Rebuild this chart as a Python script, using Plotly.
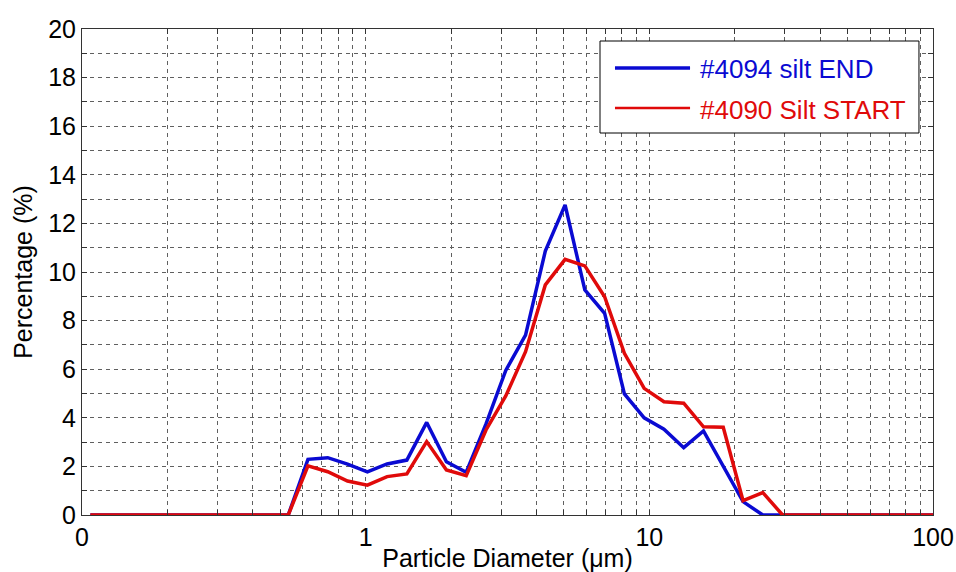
import plotly.graph_objects as go

# Particle diameter bins (µm)
diameter = [0.107, 0.5335, 0.626, 0.735, 0.863, 1.014, 1.190, 1.397, 1.641, 1.926,
            2.262, 2.656, 3.118, 3.661, 4.298, 5.047, 5.925, 6.957, 8.168, 9.590,
            11.26, 13.22, 15.52, 18.22, 21.40, 25.12, 29.50, 100.0]

silt_end = [0, 0, 2.29, 2.36, 2.09, 1.77, 2.10, 2.26, 3.81, 2.19,
            1.76, 3.75, 5.95, 7.40, 10.86, 12.76, 9.26, 8.30, 4.98, 4.00,
            3.53, 2.77, 3.46, 2.02, 0.55, 0, 0, 0]

silt_start = [0, 0, 2.02, 1.78, 1.40, 1.23, 1.58, 1.69, 3.02, 1.85,
              1.62, 3.50, 4.90, 6.72, 9.47, 10.52, 10.25, 8.98, 6.65, 5.21,
              4.66, 4.60, 3.63, 3.61, 0.59, 0.92, 0, 0]

x_tickvals = [0.1, 1, 10, 100]
x_ticktext = ["0", "1", "10", "100"]

BLUE = "#0a0ad2"
RED = "#e00a0a"
FONT = "Arial, Liberation Sans, sans-serif"
GRID = "#606060"
AX = "#333333"
DASH = "4px,4px"

fig = go.Figure()
fig.add_trace(go.Scatter(x=diameter, y=silt_end, mode="lines", name="#4094 silt END",
                         line=dict(color=BLUE, width=3.5), showlegend=False))
fig.add_trace(go.Scatter(x=diameter, y=silt_start, mode="lines", name="#4090 Silt START",
                         line=dict(color=RED, width=3.5), showlegend=False))

minor_x = [m * 10 ** e for e in (-1, 0, 1) for m in range(2, 10)]

fig.update_xaxes(type="log", range=[-1, 2], tickmode="array", tickvals=x_tickvals,
                 ticktext=x_ticktext, showline=True, mirror="allticks", linecolor=AX, linewidth=1,
                 ticks="inside", ticklen=5, tickcolor=AX, automargin=False,
                 showgrid=True, gridcolor=GRID, griddash=DASH, gridwidth=1,
                 minor=dict(tickmode="array", tickvals=minor_x, ticks="inside", ticklen=5,
                            tickcolor=AX, showgrid=True, gridcolor=GRID, griddash=DASH,
                            gridwidth=1),
                 zeroline=False,
                 tickfont=dict(family=FONT, size=25, color="black"),
                 title=dict(text="Particle Diameter (μm)", standoff=2,
                            font=dict(family=FONT, size=25, color="black")))
fig.update_yaxes(range=[0, 20], dtick=2, showline=True, mirror="allticks", linecolor=AX,
                 linewidth=1, ticks="inside", ticklen=5, tickcolor=AX, automargin=False,
                 showgrid=True, gridcolor=GRID, griddash=DASH, gridwidth=1,
                 minor=dict(dtick=1, ticks="inside", ticklen=5, tickcolor=AX, showgrid=True,
                            gridcolor=GRID, griddash=DASH, gridwidth=1),
                 zeroline=False,
                 tickfont=dict(family=FONT, size=25, color="black"),
                 title=dict(text="Percentage (%)", standoff=8,
                            font=dict(family=FONT, size=25, color="black")))

# Legend box (drawn manually)
fig.add_shape(type="rect", xref="paper", yref="paper", x0=0.6087, x1=0.9835, y0=0.786, y1=0.9753,
              line=dict(color="black", width=1), fillcolor="white", layer="above")
fig.add_shape(type="line", xref="paper", yref="paper", x0=0.6263, x1=0.7145, y0=0.9198, y1=0.9198,
              line=dict(color=BLUE, width=3.5), layer="above")
fig.add_shape(type="line", xref="paper", yref="paper", x0=0.6263, x1=0.7145, y0=0.8374, y1=0.8374,
              line=dict(color=RED, width=2.5), layer="above")
fig.add_annotation(xref="paper", yref="paper", x=0.7239, y=0.917, xanchor="left", yanchor="middle",
                   text="#4094 silt END", showarrow=False,
                   font=dict(family=FONT, size=26, color=BLUE))
fig.add_annotation(xref="paper", yref="paper", x=0.7239, y=0.833, xanchor="left", yanchor="middle",
                   text="#4090 Silt START", showarrow=False,
                   font=dict(family=FONT, size=26, color=RED))

fig.update_layout(width=956, height=572, margin=dict(l=82, r=23, t=29, b=57),
                  paper_bgcolor="white", plot_bgcolor="white", showlegend=False)

fig.write_html("out.html")
